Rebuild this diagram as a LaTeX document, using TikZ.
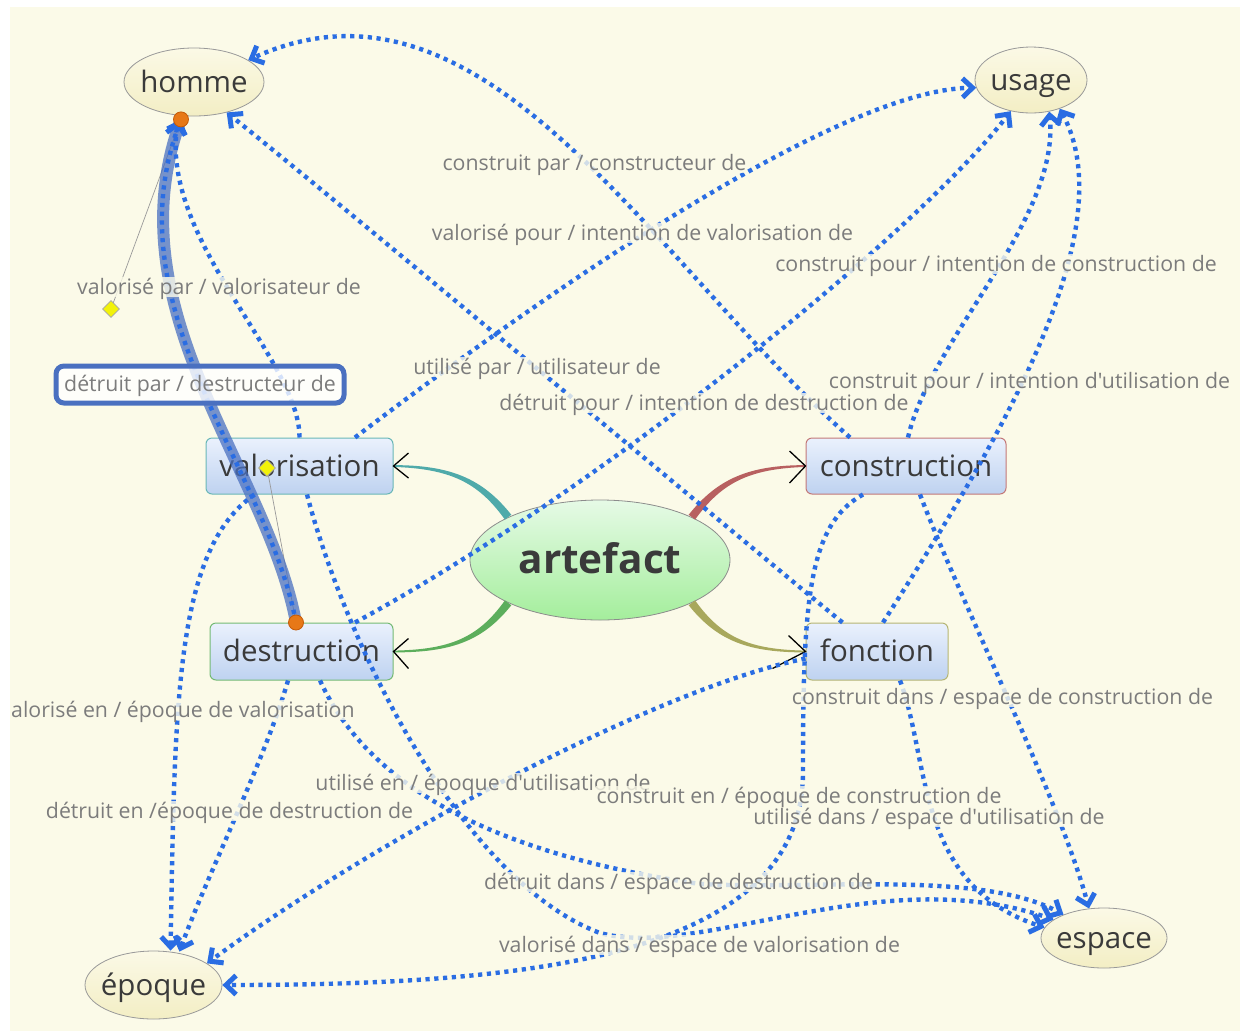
\documentclass[tikz,border=0pt]{standalone}
\usepackage{fontspec}
\setmainfont{Open Sans}[Ligatures=TeXOff]
\usetikzlibrary{arrows.meta,shapes.geometric,calc}
\definecolor{bgc}{HTML}{FBFAE8}
\definecolor{topT}{HTML}{FBF9E6}
\definecolor{topB}{HTML}{F3EEC4}
\definecolor{cenT}{HTML}{E6FAE6}
\definecolor{cenB}{HTML}{A4EE9C}
\definecolor{subT}{HTML}{EAF1FD}
\definecolor{subB}{HTML}{BED2F0}
\definecolor{relc}{HTML}{2A6DE3}
\definecolor{selc}{HTML}{4A70C0}
\definecolor{lbl}{HTML}{7C7C7C}
\definecolor{txt}{HTML}{3A3A3A}
\definecolor{tealb}{HTML}{4FAAAA}
\definecolor{redb}{HTML}{B86060}
\definecolor{greenb}{HTML}{5CAE5C}
\definecolor{oliveb}{HTML}{A8A85C}
\definecolor{orangeH}{HTML}{E77817}
\definecolor{orangeD}{HTML}{C45A08}
\definecolor{yellowH}{HTML}{F2F20A}
\begin{document}
\begin{tikzpicture}[x=1pt,y=-1pt,
 topic/.style={ellipse, draw=black!40, line width=0.8pt, top color=topT, bottom color=topB, text=txt, inner xsep=-15pt, inner ysep=0pt, font=\fontsize{29.5}{32}\selectfont, text height=23pt, text depth=3pt},
 central/.style={ellipse, draw=black!45, line width=0.8pt, top color=cenT, bottom color=cenB, text=txt, inner xsep=-15pt, inner ysep=0pt, font=\fontsize{40.5}{44}\selectfont\bfseries, text height=31pt, text depth=4pt},
 sub/.style={rectangle, rounded corners=6pt, line width=1pt, top color=subT, bottom color=subB, text=txt, inner sep=0pt, font=\fontsize{29.5}{32}\selectfont, text height=23pt, text depth=3pt},
 lab/.style={text=lbl, font=\fontsize{21.3}{23}\selectfont, fill=bgc, fill opacity=.8, text opacity=1, inner xsep=1pt, inner ysep=1pt, text height=16pt, text depth=2pt},
 rel/.style={draw=relc, line width=4.4pt, dash pattern=on 4.2pt off 4.6pt, -{Straight Barb[length=10pt,width=19pt,line width=5pt]}},
 chev/.style={draw=black, line width=1.3pt},
 handle/.style={circle, fill=orangeH, draw=orangeD, line width=0.8pt, minimum size=15pt, inner sep=0pt},
 ctrl/.style={diamond, fill=yellowH, draw=black!35, line width=0.6pt, minimum size=17pt, inner sep=0pt},
 guide/.style={draw=black!40, line width=0.7pt}
]
% background
\fill[white] (0,0) rectangle (1240,1034);
\fill[bgc] (10,7) rectangle (1240,1031);
\useasboundingbox (0,0) rectangle (1240,1034);

% nodes
\node[topic, minimum width=140pt, minimum height=68pt] (homme) at (194,82) {homme};
\node[topic, minimum width=112pt, minimum height=66pt] (usage) at (1031,80) {usage};
\node[topic, minimum width=137pt, minimum height=68pt] (epoque) at (153.5,985) {époque};
\node[topic, minimum width=126pt, minimum height=60pt] (espace) at (1104,938) {espace};
\node[central, minimum width=260pt, minimum height=120pt] (artefact) at (600,560) {artefact};
\node[sub, draw=tealb!85, minimum width=187pt, minimum height=56pt] (valorisation) at (299.5,466) {valorisation};
\node[sub, draw=greenb!85, minimum width=183pt, minimum height=57pt] (destruction) at (301.5,651.5) {destruction};
\node[sub, draw=redb!85, minimum width=200pt, minimum height=56pt] (construction) at (906,466) {construction};
\node[sub, draw=oliveb!85, minimum width=142pt, minimum height=57pt] (fonction) at (877,651.5) {fonction};

% branches from artefact (tapered)
\fill[tealb] ($(artefact.155)+(3.2,-2.4)$) .. controls (482,478) and (450,465.2) .. ($(valorisation.east)+(0,-0.9)$) -- ($(valorisation.east)+(0,0.9)$) .. controls (450,468.8) and (478,482) .. ($(artefact.155)+(-3.2,2.4)$) -- cycle;
\fill[redb] ($(artefact.25)+(-3.2,-2.4)$) .. controls (718,478) and (750,465.2) .. ($(construction.west)+(0,-0.9)$) -- ($(construction.west)+(0,0.9)$) .. controls (750,468.8) and (722,482) .. ($(artefact.25)+(3.2,2.4)$) -- cycle;
\fill[greenb] ($(artefact.205)+(3.2,2.4)$) .. controls (482,642) and (450,652.4) .. ($(destruction.east)+(0,0.9)$) -- ($(destruction.east)+(0,-0.9)$) .. controls (450,649.6) and (478,638) .. ($(artefact.205)+(-3.2,-2.4)$) -- cycle;
\fill[oliveb] ($(artefact.-25)+(-3.2,2.4)$) .. controls (718,642) and (750,652.4) .. ($(fonction.west)+(0,0.9)$) -- ($(fonction.west)+(0,-0.9)$) .. controls (750,649.6) and (722,638) .. ($(artefact.-25)+(3.2,-2.4)$) -- cycle;
\draw[chev] ($(valorisation.east)+(15,-13)$) -- (valorisation.east) -- ($(valorisation.east)+(15,12)$);
\draw[chev] ($(destruction.east)+(15,-13)$) -- (destruction.east) -- ($(destruction.east)+(15,17)$);
\draw[chev] ($(construction.west)+(-16,-15)$) -- (construction.west) -- ($(construction.west)+(-16,17)$);
\draw[chev] ($(fonction.west)+(-17,-16)$) -- (fonction.west) -- ($(fonction.west)+(-33,17)$);

% selected relation handles
\coordinate (hp1) at ($(homme.south)+(-13,3)$);
\coordinate (hp2) at ($(destruction.north)+(-5.5,0)$);
\coordinate (cq1) at (111,309);
\coordinate (cq2) at (267,468);
\draw[guide] (hp1) -- (cq1);
\draw[guide] (hp2) -- (cq2);
\draw[selc, line width=12pt, opacity=.75] (hp2) .. controls (cq2) and (cq1) .. (hp1);

% relations
\draw[rel] ($(construction.north)+(-56,0)$) .. controls (652,262) and (485,-48) .. (homme.22);
\draw[rel] ($(fonction.north west)+(37,0)$) .. controls (760,555) and (330,195) .. (homme.-43);
\draw[rel] (valorisation.north) .. controls (300,360) and (160,240) .. ($(homme.south)+(-16,4)$);
\draw[rel] (hp2) .. controls (cq2) and (cq1) .. (hp1);
\draw[rel] ($(valorisation.north)+(55.5,0)$) .. controls (470,350) and (820,90) .. (usage.188);
\draw[rel] ($(destruction.north)+(53.5,0)$) .. controls (600,490) and (920,230) .. (usage.237);
\draw[rel] ($(construction.north)+(2,0)$) .. controls (930,340) and (1060,220) .. (usage.-60);
\draw[rel] ($(fonction.north)+(6,0)$) .. controls (1000,440) and (1125,230) .. (usage.-45);
\draw[rel] ($(construction.south)+(14,0)$) .. controls (960,600) and (1060,800) .. (espace.117);
\draw[rel] ($(fonction.south)+(23,0)$) .. controls (930,760) and (915,885) .. (espace.170);
\draw[rel] ($(valorisation.south)+(7.5,0)$) .. controls (345,640) and (460,880) .. (600,933) .. controls (700,960) and (880,860) .. (espace.160);
\draw[rel] ($(destruction.south)+(18.5,0)$) .. controls (370,790) and (500,855) .. (700,884) .. controls (820,890) and (980,870) .. (espace.150);
\draw[rel] ($(valorisation.south)+(-45,0)$) .. controls (175,550) and (175,700) .. ($(epoque.north)+(17,0)$);
\draw[rel] ($(destruction.south)+(-13.5,0)$) .. controls (265,760) and (205,880) .. ($(epoque.north)+(26,1)$);
\draw[rel] ($(fonction.west)+(0,7)$) .. controls (650,690) and (360,850) .. (epoque.22);
\draw[rel] ($(construction.south)+(-43,0)$) .. controls (808,525) and (803,600) .. (803,772) .. controls (803,960) and (520,985) .. (epoque.east);

% relation labels
\node[lab] (l1) at (594.5,163) {construit par / constructeur de};
\node[lab] (l2) at (642.5,233) {valorisé pour / intention de valorisation de};
\node[lab] (l3) at (996,264) {construit pour / intention de construction de};
\node[lab] (l4) at (219,287) {valorisé par / valorisateur de};
\node[lab] (l5) at (537,367) {utilisé par / utilisateur de};
\node[lab] (l6) at (1029.5,381) {construit pour / intention d'utilisation de};
\node[lab, draw=selc, line width=5pt, rounded corners=8pt, fill=white, minimum width=288pt, minimum height=37pt] (l7) at (200,384.5) {détruit par / destructeur de};
\node[lab] (l8) at (704,403) {détruit pour / intention de destruction de};
\node[lab] (l9) at (1002.5,697) {construit dans / espace de construction de};
\node[lab, anchor=west] (l10) at (10,710) {alorisé en / époque de valorisation};
\node[lab] (l11) at (483,783) {utilisé en / époque d'utilisation de};
\node[lab] (l12) at (229.5,811) {détruit en /époque de destruction de};
\node[lab] (l13) at (799,796) {construit en / époque de construction de};
\node[lab] (l14) at (929,817) {utilisé dans / espace d'utilisation de};
\node[lab] (l15) at (678.5,882) {détruit dans / espace de destruction de};
\node[lab] (l16) at (699.5,945) {valorisé dans / espace de valorisation de};

% handles on top
\node[handle] (hdot1) at (hp1) {};
\node[handle] (hdot2) at (hp2) {};
\node[ctrl] (cdia1) at (cq1) {};
\node[ctrl] (cdia2) at (cq2) {};
\end{tikzpicture}
\end{document}
